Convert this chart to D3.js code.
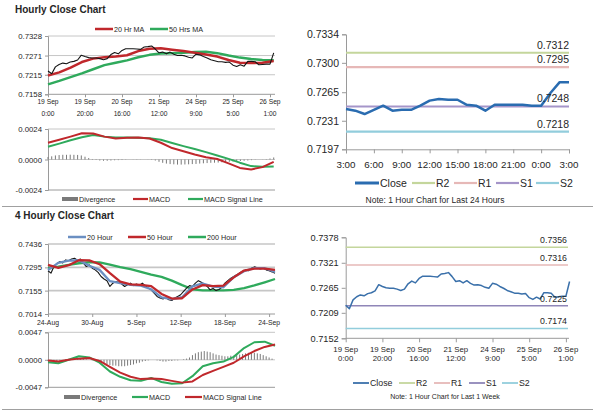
<!DOCTYPE html>
<html><head><meta charset="utf-8">
<script src="https://cdn.jsdelivr.net/npm/d3@7"></script>
<style>
body{margin:0;background:#fff;}
svg{display:block;font-family:"Liberation Sans",Arial,sans-serif;}
</style></head><body>
<svg id="c" width="600" height="413"></svg>
<script>
// ================= DATA =================
const hourTickPos = [0, 20, 40, 60, 80, 100, 120];
const hourTickDay = ["19 Sep", "19 Sep", "20 Sep", "21 Sep", "24 Sep", "25 Sep", "26 Sep"];
const hourTickTime = ["0:00", "20:00", "16:00", "12:00", "9:00", "5:00", "1:00"];
const hourSpan = 122;
// hourly close, one value every 2 hours (19 Sep 0:00 .. 26 Sep 3:00)
const hourClose = [0.7226, 0.7218, 0.7238, 0.7245, 0.7249, 0.7247, 0.7252, 0.7254, 0.7258, 0.7272,
  0.7268, 0.7265, 0.7264, 0.7264, 0.7262, 0.7259, 0.7262, 0.7274, 0.7280, 0.7276,
  0.7286, 0.7291, 0.7291, 0.7291, 0.7290, 0.7289, 0.7296, 0.7297, 0.7299, 0.7290,
  0.7279, 0.7281, 0.7276, 0.7281, 0.7275, 0.7271, 0.7272, 0.7270, 0.7266, 0.7264,
  0.7275, 0.7273, 0.7268, 0.7264, 0.7259, 0.7256, 0.7253, 0.7253, 0.7251, 0.7252,
  0.7243, 0.7239, 0.7244, 0.7240, 0.7254, 0.7254, 0.7253, 0.7244, 0.7245, 0.7246,
  0.7246, 0.7279];
const ma20Hr = [0.7213, 0.7222, 0.7236, 0.7252, 0.7262, 0.7266, 0.7268, 0.7272, 0.7284, 0.7291,
  0.7292, 0.7288, 0.7284, 0.7279, 0.7274, 0.7268, 0.7258, 0.7250, 0.7249, 0.7250, 0.7255];
const ma50Hr = [0.7187, 0.7197, 0.7208, 0.7219, 0.7231, 0.7243, 0.7250, 0.7257, 0.7266, 0.7273,
  0.7277, 0.7278, 0.7279, 0.7281, 0.7282, 0.7278, 0.7271, 0.7265, 0.7261, 0.7258, 0.7257];
const macdHr = [0.00132, 0.00156, 0.00180, 0.00206, 0.00204, 0.00180, 0.00166, 0.00172, 0.00174, 0.00165,
  0.00132, 0.00090, 0.00065, 0.00040, 0.00018, 0.00004, -0.00030, -0.00066, -0.00078, -0.00060, -0.00018];
const signalHr = [0.00100, 0.00125, 0.00152, 0.00175, 0.00192, 0.00180, 0.00174, 0.00174, 0.00172, 0.00167,
  0.00155, 0.00130, 0.00105, 0.00082, 0.00058, 0.00032, 0.00005, -0.00025, -0.00052, -0.00058, -0.00055];
const divHr = [0.00020, 0.00025, 0.00032, 0.00035, 0.00037, 0.00037, 0.00038, 0.00037, 0.00036, 0.00032,
  0.00022, 0.00012, 0.00004, -0.00004, -0.00008, -0.00010, -0.00010, -0.00008, -0.00006, -0.00005,
  -0.00004, -0.00002, 0.00000, 0.00001, 0.00002, 0.00001, 0.00000, -0.00001, -0.00003, -0.00008,
  -0.00018, -0.00026, -0.00032, -0.00036, -0.00038, -0.00040, -0.00040, -0.00039, -0.00038, -0.00036,
  -0.00035, -0.00032, -0.00030, -0.00028, -0.00026, -0.00025, -0.00024, -0.00022, -0.00020, -0.00018,
  -0.00016, -0.00014, -0.00012, -0.00010, -0.00008, -0.00005, -0.00002, 0.00000, 0.00001, 0.00003,
  0.00008, 0.00016];
const hrPriceTicks = ["0.7328", "0.7271", "0.7215", "0.7158"];
const hrMacdTicks = ["0.0024", "0.0000", "-0.0024"];

// last 24 hours
const dayTimes = ["3:00", "6:00", "9:00", "12:00", "15:00", "18:00", "21:00", "0:00", "3:00"];
const dayClose = [0.7245, 0.7243, 0.7239, 0.7244, 0.7249, 0.7243, 0.7244, 0.7244, 0.7249, 0.7255,
  0.7257, 0.7256, 0.7256, 0.7250, 0.7249, 0.7243, 0.7250, 0.7250, 0.7250, 0.7250,
  0.7249, 0.7249, 0.7264, 0.7277, 0.7277];
const dayPriceTicks = ["0.7334", "0.7300", "0.7265", "0.7231", "0.7197"];
const levelNames = ["R2", "R1", "S1", "S2"];
const dayLevels = [0.7312, 0.7295, 0.7248, 0.7218];
const weekLevels = [0.7356, 0.7316, 0.7225, 0.7174];
const weekPriceTicks = ["0.7378", "0.7321", "0.7265", "0.7209", "0.7152"];

// 4 hourly
const fourSpan = 154;
const fourTickPos = [0, 30, 60, 90, 120, 150];
const fourTickLabels = ["24-Aug", "30-Aug", "5-Sep", "12-Sep", "18-Sep", "24-Sep"];
const fourClose = [0.7275, 0.7260, 0.7300, 0.7318, 0.7330, 0.7322, 0.7340, 0.7335, 0.7345, 0.7350,
  0.7338, 0.7345, 0.7320, 0.7300, 0.7310, 0.7290, 0.7280, 0.7265, 0.7240, 0.7225,
  0.7215, 0.7180, 0.7200, 0.7210, 0.7205, 0.7195, 0.7180, 0.7190, 0.7200, 0.7185,
  0.7195, 0.7188, 0.7200, 0.7185, 0.7170, 0.7160, 0.7140, 0.7120, 0.7110, 0.7105,
  0.7112, 0.7100, 0.7095, 0.7110, 0.7120, 0.7130, 0.7150, 0.7170, 0.7185, 0.7180,
  0.7200, 0.7215, 0.7205, 0.7195, 0.7180, 0.7160, 0.7168, 0.7155, 0.7162, 0.7175,
  0.7200, 0.7215, 0.7230, 0.7240, 0.7250, 0.7262, 0.7270, 0.7280, 0.7275, 0.7290,
  0.7298, 0.7292, 0.7285, 0.7290, 0.7280, 0.7275, 0.7268, 0.7260];
const ma20Four = [0.7279, 0.7322, 0.7336, 0.7338, 0.7305, 0.7280, 0.7212, 0.7200, 0.7189, 0.7185,
  0.7163, 0.7114, 0.7103, 0.7115, 0.7180, 0.7198, 0.7179, 0.7175, 0.7236, 0.7272, 0.7291, 0.7290, 0.7268];
const ma50Four = [0.7310, 0.7292, 0.7308, 0.7338, 0.7337, 0.7314, 0.7260, 0.7209, 0.7193, 0.7190,
  0.7182, 0.7135, 0.7107, 0.7109, 0.7162, 0.7188, 0.7182, 0.7185, 0.7235, 0.7276, 0.7288, 0.7287, 0.7280];
const ma200Four = [0.7292, 0.7300, 0.7310, 0.7320, 0.7326, 0.7325, 0.7312, 0.7297, 0.7284, 0.7268,
  0.7252, 0.7238, 0.7215, 0.7188, 0.7163, 0.7157, 0.7156, 0.7156, 0.7160, 0.7170, 0.7186, 0.7205, 0.7225];
const macdFour = [-0.0004, -0.0006, 0.0000, 0.0006, 0.0004, -0.0005, -0.0020, -0.0029, -0.0035, -0.0036,
  -0.0031, -0.0038, -0.0041, -0.0040, -0.0028, -0.0011, -0.0006, -0.0003, 0.0005, 0.0020, 0.0030, 0.0031, 0.0024];
const signalFour = [-0.0001, -0.0003, 0.0000, 0.0002, 0.0003, -0.0002, -0.0012, -0.0022, -0.0029, -0.0033,
  -0.0032, -0.0033, -0.0036, -0.0039, -0.0037, -0.0026, -0.0019, -0.0012, -0.0005, 0.0006, 0.0015, 0.0022, 0.0026];
const divFour = [-0.0002, -0.0003, -0.0003, -0.0002, -0.0001, 0.0000, 0.0001, 0.0001, 0.0002, 0.0003,
  0.0003, 0.0003, 0.0002, 0.0001, 0.0000, -0.0001, -0.0002, -0.0003, -0.0005, -0.0006,
  -0.0008, -0.0009, -0.0010, -0.0010, -0.0011, -0.0011, -0.0011, -0.0010, -0.0009, -0.0008,
  -0.0006, -0.0005, -0.0003, -0.0002, -0.0001, 0.0000, 0.0000, -0.0001, -0.0002, -0.0003,
  -0.0003, -0.0002, -0.0002, -0.0001, -0.0001, 0.0000, 0.0001, 0.0002, 0.0004, 0.0008,
  0.0011, 0.0013, 0.0014, 0.0015, 0.0014, 0.0013, 0.0011, 0.0009, 0.0008, 0.0007,
  0.0006, 0.0006, 0.0007, 0.0007, 0.0008, 0.0009, 0.0010, 0.0011, 0.0012, 0.0012,
  0.0012, 0.0011, 0.0010, 0.0008, 0.0006, 0.0004, 0.0002, 0.0000];
const fourPriceTicks = ["0.7436", "0.7295", "0.7155", "0.7014"];
const fourMacdTicks = ["0.0047", "0.0000", "-0.0047"];

// ================= COLORS =================
const C = {
  red: "#c0282c", green: "#2faa5c", black: "#151515", steel: "#6b8fc2",
  blue: "#2a6cb0", blue2: "#3a70aa", grid: "#c6c6c6", axis: "#9a9a9a", div: "#7a7a7a",
  R2: "#c4d69c", R1: "#e6b8b7", S1: "#a595c9", S2: "#92cddc", text: "#262626"
};

const svg = d3.select("#c");

function text(x, y, s, size, anchor, weight) {
  return svg.append("text").attr("x", x).attr("y", y).attr("font-size", size)
    .attr("text-anchor", anchor || "start").attr("font-weight", weight || "normal")
    .attr("fill", C.text).text(s);
}
function xs(arr, span) { return arr.map((v, i) => [i * span / (arr.length - 1), v]); }
function yAxis(scale, labels, x, size, tick) {
  const g = svg.append("g").attr("transform", `translate(${x},0)`);
  g.call(d3.axisLeft(scale).tickValues(labels.map(Number)).tickSizeOuter(0).tickSize(tick)
    .tickPadding(3).tickFormat(d => labels.find(l => +l === d)));
  g.select(".domain").attr("stroke", C.axis);
  g.selectAll(".tick line").attr("stroke", C.axis);
  g.selectAll(".tick text").attr("font-size", size).attr("fill", C.text).attr("font-family", null);
  return g;
}
function xAxis(scale, y, ticks, tick) {
  const g = svg.append("g").attr("transform", `translate(0,${y})`);
  g.call(d3.axisBottom(scale).tickValues(ticks).tickSizeOuter(0).tickSize(tick).tickFormat(""));
  g.select(".domain").attr("stroke", C.axis);
  g.selectAll(".tick line").attr("stroke", C.axis);
  return g;
}
function grid(yScale, labels, x0, x1, w) {
  svg.append("g").selectAll("line").data(labels.map(Number)).join("line")
    .attr("x1", x0).attr("x2", x1).attr("y1", d => yScale(d)).attr("y2", d => yScale(d))
    .attr("stroke", C.grid).attr("stroke-width", w);
}
function line(xS, yS, pts, color, w) {
  svg.append("path").datum(pts)
    .attr("d", d3.line().x(d => xS(d[0])).y(d => yS(d[1])))
    .attr("fill", "none").attr("stroke", color).attr("stroke-width", w)
    .attr("stroke-linejoin", "round");
}
function bars(xS, yS, pts) {
  svg.append("g").selectAll("rect").data(pts).join("rect")
    .attr("x", d => xS(d[0]) - 0.5).attr("width", 1)
    .attr("y", d => Math.min(yS(d[1]), yS(0))).attr("height", d => Math.abs(yS(d[1]) - yS(0)))
    .attr("fill", C.div);
}
function legendItem(x, y, color, label, size, w, len, rect) {
  if (rect) svg.append("rect").attr("x", x).attr("y", y - 2).attr("width", len).attr("height", 4).attr("fill", C.div);
  else svg.append("line").attr("x1", x).attr("x2", x + len).attr("y1", y).attr("y2", y)
    .attr("stroke", color).attr("stroke-width", w);
  text(x + len + 1, y + size * 0.36, label, size);
}
function domainOf(labels) { const v = labels.map(Number); return [d3.min(v), d3.max(v)]; }

// ================= PANEL 1: Hourly close =================
text(15, 13, "Hourly Close Chart", 10, "start", "bold");
legendItem(95, 29, C.red, "20 Hr MA", 7.2, 2.5, 18);
legendItem(150, 29, C.green, "50 Hrs MA", 7.2, 2.5, 18);
{
  const x = d3.scaleLinear().domain([0, hourSpan]).range([48, 48 + hourSpan * 1.85]);
  const y = d3.scaleLinear().domain(domainOf(hrPriceTicks)).range([94.3, 36]);
  grid(y, hrPriceTicks.slice(0, 3), 48, 275, 1);
  yAxis(y, hrPriceTicks, 48, 7.8, 3);
  xAxis(x, 94.3, hourTickPos, 3).select(".domain").attr("d", "M48,0H275");
  line(x, y, xs(ma50Hr, hourSpan), C.green, 2.5);
  line(x, y, xs(ma20Hr, hourSpan), C.red, 2.5);
  line(x, y, xs(hourClose, hourSpan), C.black, 1.1);
  hourTickPos.forEach((h, i) => {
    text(x(h), 103.5, hourTickDay[i], 6.7, "middle");
    text(x(h), 116, hourTickTime[i], 6.7, "middle");
  });
}
// ================= PANEL 2: Hourly MACD =================
{
  const x = d3.scaleLinear().domain([0, hourSpan]).range([48, 48 + hourSpan * 1.85]);
  const y = d3.scaleLinear().domain(domainOf(hrMacdTicks)).range([190, 129]);
  grid(y, hrMacdTicks.slice(0, 2), 48, 275, 1);
  yAxis(y, hrMacdTicks, 48, 7.8, 3);
  xAxis(x, 190, hourTickPos, 0).select(".domain").attr("d", "M48,0H275");
  bars(x, y, xs(divHr, hourSpan));
  line(x, y, xs(signalHr, hourSpan), C.green, 2);
  line(x, y, xs(macdHr, hourSpan), C.red, 2);
  legendItem(62, 199, C.div, "Divergence", 7.2, 4, 16, true);
  legendItem(133, 199, C.red, "MACD", 7.2, 2.2, 15);
  legendItem(188, 199, C.green, "MACD Signal Line", 7.2, 2.2, 15);
}
// ================= PANEL 3: last 24 hours =================
{
  const x = d3.scaleLinear().domain([0, dayClose.length - 1]).range([346, 569]);
  const y = d3.scaleLinear().domain(domainOf(dayPriceTicks)).range([149.3, 34.3]);
  yAxis(y, dayPriceTicks, 346, 10.5, 4);
  xAxis(x, 149.3, dayTimes.map((t, i) => i * 3), 4);
  dayLevels.forEach((v, i) => {
    svg.append("line").attr("x1", 346).attr("x2", 569).attr("y1", y(v)).attr("y2", y(v))
      .attr("stroke", C[levelNames[i]]).attr("stroke-width", 2.2);
  });
  line(x, y, dayClose.map((v, i) => [i, v]), C.blue, 2.5);
  dayLevels.forEach(v => text(569, y(v) - 4, v.toFixed(4), 10.5, "end"));
  dayTimes.forEach((t, i) => text(x(i * 3), 168, t, 9.8, "middle"));
  legendItem(355, 183, C.blue, "Close", 10.5, 3, 24);
  legendItem(412, 183, C.R2, "R2", 10.5, 2.2, 23);
  legendItem(454, 183, C.R1, "R1", 10.5, 2.2, 23);
  legendItem(496, 183, C.S1, "S1", 10.5, 2.2, 23);
  legendItem(536, 183, C.S2, "S2", 10.5, 2.2, 23);
  text(435, 203, "Note: 1 Hour Chart for Last 24 Hours", 8.5, "middle");
}
// separators
svg.append("line").attr("x1", 2).attr("x2", 593).attr("y1", 206.5).attr("y2", 206.5).attr("stroke", "#a0a0a0");
svg.append("line").attr("x1", 2).attr("x2", 593).attr("y1", 409.5).attr("y2", 409.5).attr("stroke", "#a0a0a0");

// ================= PANEL 4: 4 hourly =================
text(15, 219, "4 Hourly Close Chart", 10, "start", "bold");
legendItem(68, 237, C.steel, "20 Hour", 7.2, 2.5, 18);
legendItem(128, 237, C.red, "50 Hour", 7.2, 2.5, 18);
legendItem(188, 237, C.green, "200 Hour", 7.2, 2.5, 18);
{
  const x = d3.scaleLinear().domain([0, fourSpan]).range([48, 275]);
  const y = d3.scaleLinear().domain(domainOf(fourPriceTicks)).range([314, 244]);
  grid(y, fourPriceTicks.slice(0, 3), 48, 275, 1.6);
  yAxis(y, fourPriceTicks, 48, 7.8, 3);
  xAxis(x, 314, fourTickPos, 3).select(".domain").attr("d", "M48,0H275");
  line(x, y, xs(ma200Four, fourSpan), C.green, 2.3);
  line(x, y, xs(fourClose, fourSpan), C.black, 1.1);
  line(x, y, xs(ma20Four, fourSpan), C.steel, 2.3);
  line(x, y, xs(ma50Four, fourSpan), C.red, 2.3);
  fourTickPos.forEach((p, i) => text(x(p), 325, fourTickLabels[i], 6.8, "middle"));
}
// ================= PANEL 5: 4 hourly MACD =================
{
  const x = d3.scaleLinear().domain([0, fourSpan]).range([48, 275]);
  const y = d3.scaleLinear().domain(domainOf(fourMacdTicks)).range([387.3, 332.3]);
  grid(y, fourMacdTicks.slice(0, 2), 48, 275, 1);
  yAxis(y, fourMacdTicks, 48, 7.8, 3);
  xAxis(x, 387.3, fourTickPos, 0).select(".domain").attr("d", "M48,0H275");
  bars(x, y, xs(divFour, fourSpan));
  line(x, y, xs(macdFour, fourSpan), C.green, 2);
  line(x, y, xs(signalFour, fourSpan), C.red, 2);
  legendItem(64, 397, C.div, "Divergence", 7.2, 4, 16, true);
  legendItem(132, 397, C.green, "MACD", 7.2, 2.2, 16);
  legendItem(185, 397, C.red, "MACD Signal Line", 7.2, 2.2, 17);
}
// ================= PANEL 6: last week =================
{
  const x = d3.scaleLinear().domain([0, hourSpan]).range([345.7, 345.7 + hourSpan * 1.835]);
  const y = d3.scaleLinear().domain(domainOf(weekPriceTicks)).range([338.3, 237.3]);
  yAxis(y, weekPriceTicks, 345.7, 9.2, 4);
  xAxis(x, 338.3, hourTickPos, 4).select(".domain").attr("d", "M345.7,0H569");
  weekLevels.forEach((v, i) => {
    svg.append("line").attr("x1", 345.7).attr("x2", 568).attr("y1", y(v)).attr("y2", y(v))
      .attr("stroke", i === 2 ? "#8f86b8" : C[levelNames[i]]).attr("stroke-width", 1.5);
  });
  line(x, y, xs(hourClose, hourSpan), C.blue2, 1.5);
  weekLevels.forEach(v => text(567, y(v) - 4, v.toFixed(4), 8.8, "end"));
  hourTickPos.forEach((h, i) => {
    text(x(h), 351.5, hourTickDay[i], 7.8, "middle");
    text(x(h), 361, hourTickTime[i], 7.8, "middle");
  });
  legendItem(353, 383, C.blue2, "Close", 8.8, 1.8, 16);
  legendItem(399, 383, C.R2, "R2", 8.8, 1.8, 16);
  legendItem(434, 383, C.R1, "R1", 8.8, 1.8, 16);
  legendItem(469, 383, "#8f86b8", "S1", 8.8, 1.8, 16);
  legendItem(502, 383, C.S2, "S2", 8.8, 1.8, 16);
  text(445, 399, "Note: 1 Hour Chart for Last 1 Week", 7, "middle");
}
</script>
</body></html>
